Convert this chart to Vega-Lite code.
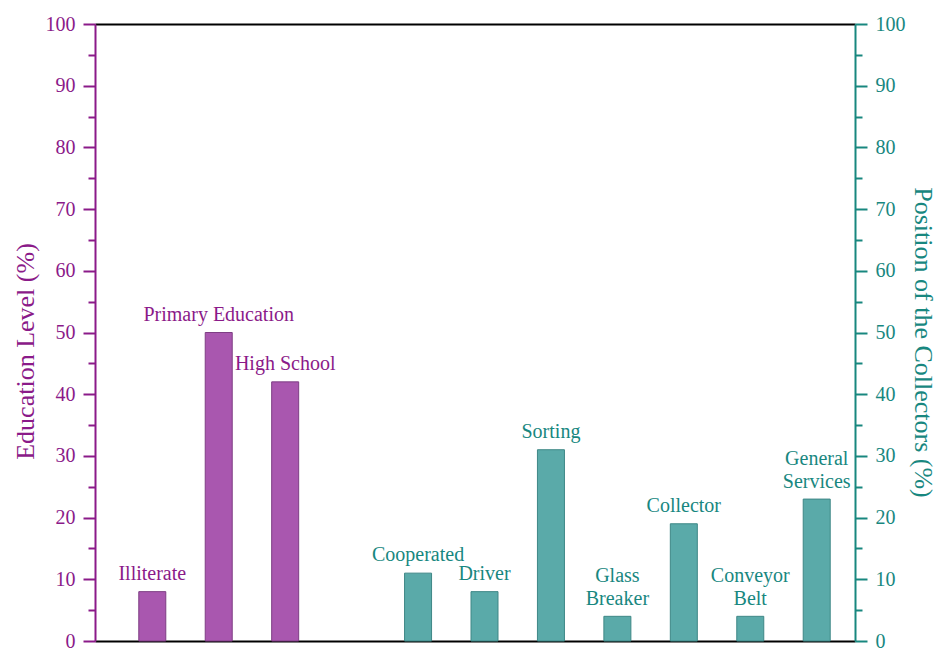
{
  "$schema": "https://vega.github.io/schema/vega-lite/v6.json",
  "width": 760,
  "height": 617,
  "autosize": {"type": "none"},
  "padding": {"left": 95, "top": 24, "right": 83, "bottom": 9},
  "background": "white",
  "config": {"view": {"stroke": null}, "font": "Liberation Serif"},
  "data": {
    "values": [
      {"label": "Illiterate", "pos": 0, "value": 8, "group": "Education"},
      {"label": "Primary Education", "pos": 1, "value": 50, "group": "Education"},
      {"label": "High School", "pos": 2, "value": 42, "group": "Education"},
      {"label": "Cooperated", "pos": 4, "value": 11, "group": "Position"},
      {"label": "Driver", "pos": 5, "value": 8, "group": "Position"},
      {"label": "Sorting", "pos": 6, "value": 31, "group": "Position"},
      {"label": "Glass\nBreaker", "pos": 7, "value": 4, "group": "Position"},
      {"label": "Collector", "pos": 8, "value": 19, "group": "Position"},
      {"label": "Conveyor\nBelt", "pos": 9, "value": 4, "group": "Position"},
      {"label": "General\nServices", "pos": 10, "value": 23, "group": "Position"}
    ]
  },
  "layer": [
    {
      "transform": [{"filter": "datum.group === 'Education'"}],
      "mark": {"type": "bar", "width": 27, "fill": "#A957AF", "stroke": "#7E3E84", "strokeWidth": 1},
      "encoding": {
        "x": {"field": "pos", "type": "quantitative", "scale": {"domain": [-0.787, 10.501], "nice": false, "zero": false},
          "axis": {"orient": "bottom", "domain": true, "domainColor": "#000000", "domainWidth": 2, "ticks": false, "labels": false, "grid": false, "title": null}},
        "y": {"field": "value", "type": "quantitative", "scale": {"domain": [0, 100], "nice": false},
          "axis": {"orient": "left", "values": [0,10,20,30,40,50,60,70,80,90,100], "grid": false,
            "domainColor": "#8B1A89", "domainWidth": 2, "tickColor": "#8B1A89", "tickWidth": 2, "tickSize": 12,
            "labelColor": "#8B1A89", "labelFont": "Liberation Serif", "labelFontSize": 20, "labelPadding": 8,
            "title": "Education Level (%)", "titleColor": "#8B1A89", "titleFont": "Liberation Serif", "titleFontSize": 26, "titleFontWeight": "normal", "titlePadding": 7, "titleY": 327}}
      }
    },
    {
      "transform": [{"filter": "datum.group === 'Position'"}],
      "mark": {"type": "bar", "width": 27, "fill": "#5AAAA9", "stroke": "#3E8786", "strokeWidth": 1},
      "encoding": {
        "x": {"field": "pos", "type": "quantitative",
          "axis": {"orient": "top", "domain": true, "domainColor": "#000000", "domainWidth": 2, "ticks": false, "labels": false, "grid": false, "title": null}},
        "y": {"field": "value", "type": "quantitative",
          "axis": {"orient": "right", "values": [0,10,20,30,40,50,60,70,80,90,100], "grid": false,
            "domainColor": "#18877F", "domainWidth": 2, "tickColor": "#18877F", "tickWidth": 2, "tickSize": 12,
            "labelColor": "#18877F", "labelFont": "Liberation Serif", "labelFontSize": 20, "labelPadding": 8,
            "title": "Position of the Collectors (%)", "titleColor": "#18877F", "titleFont": "Liberation Serif", "titleFontSize": 26, "titleFontWeight": "normal", "titlePadding": 4, "titleY": 318}}
      }
    },
    {
      "transform": [{"filter": "datum.group === 'Education'"}],
      "mark": {"type": "text", "font": "Liberation Serif", "fontSize": 20, "color": "#8B1A89", "baseline": "bottom", "dy": -8},
      "encoding": {
        "x": {"field": "pos", "type": "quantitative", "axis": null},
        "y": {"field": "value", "type": "quantitative",
          "axis": {"orient": "left", "values": [5,15,25,35,45,55,65,75,85,95], "grid": false, "domain": false, "labels": false, "title": null,
            "tickColor": "#8B1A89", "tickWidth": 2, "tickSize": 7}},
        "text": {"field": "label", "type": "nominal"}
      }
    },
    {
      "transform": [{"filter": "datum.group === 'Position' && !test(/\\n/, datum.label)"}],
      "mark": {"type": "text", "font": "Liberation Serif", "fontSize": 20, "color": "#18877F", "baseline": "bottom", "dy": -8},
      "encoding": {
        "x": {"field": "pos", "type": "quantitative", "axis": null},
        "y": {"field": "value", "type": "quantitative",
          "axis": {"orient": "right", "values": [5,15,25,35,45,55,65,75,85,95], "grid": false, "domain": false, "labels": false, "title": null,
            "tickColor": "#18877F", "tickWidth": 2, "tickSize": 7}},
        "text": {"field": "label", "type": "nominal"}
      }
    },
    {
      "transform": [{"filter": "datum.group === 'Position' && test(/\\n/, datum.label)"}],
      "mark": {"type": "text", "font": "Liberation Serif", "fontSize": 20, "color": "#18877F", "baseline": "bottom", "dy": -30, "lineBreak": "\n", "lineHeight": 23},
      "encoding": {
        "x": {"field": "pos", "type": "quantitative", "axis": null},
        "y": {"field": "value", "type": "quantitative", "axis": null},
        "text": {"field": "label", "type": "nominal"}
      }
    }
  ],
  "resolve": {"scale": {"x": "shared", "y": "shared"}, "axis": {"x": "independent", "y": "independent"}}
}
